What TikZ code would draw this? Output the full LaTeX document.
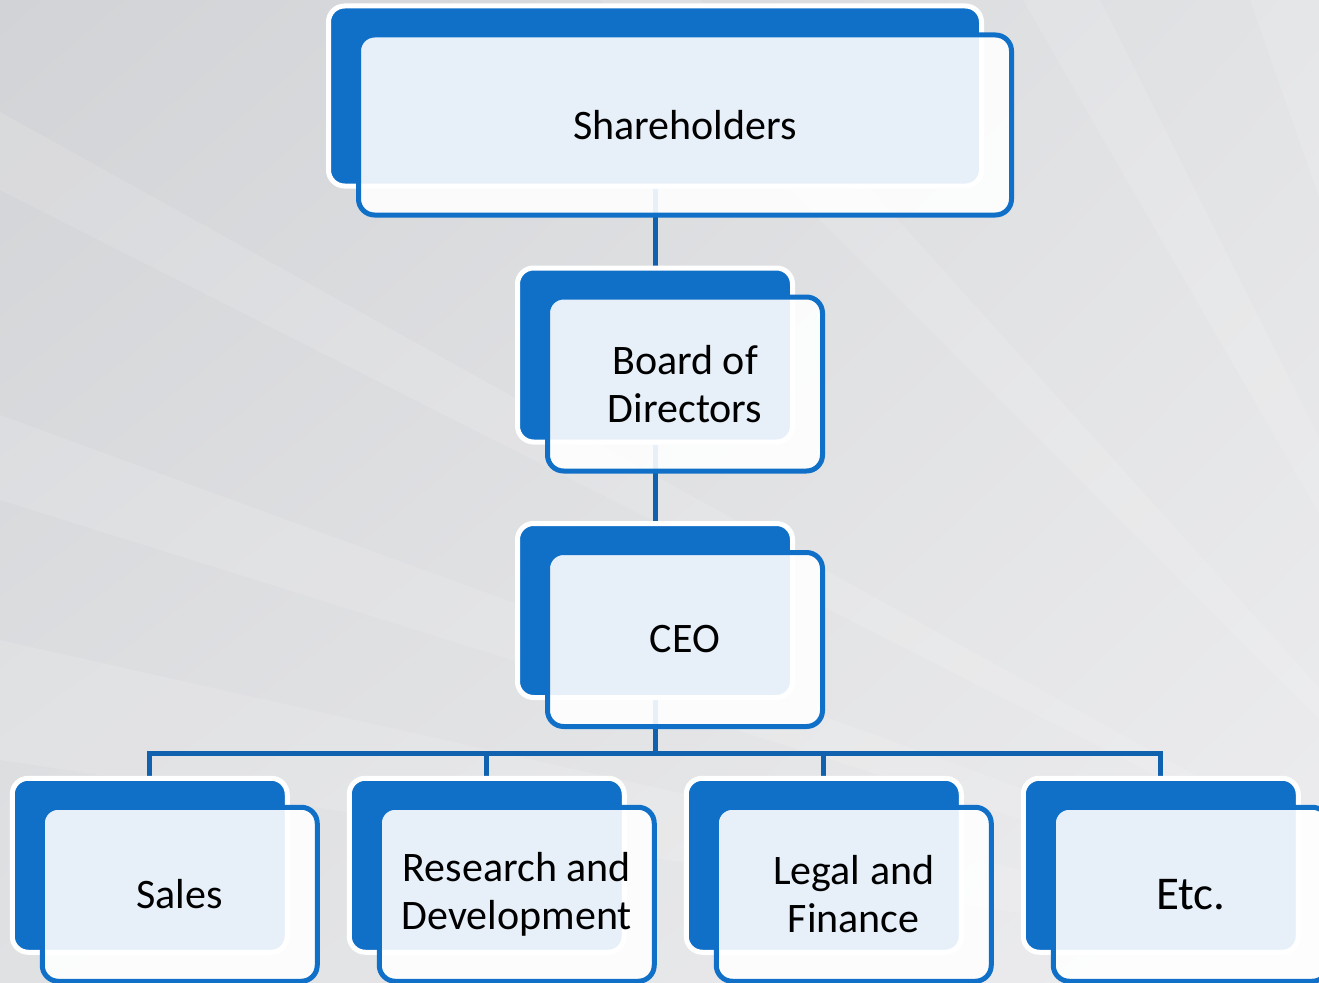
\documentclass[tikz,border=0pt]{standalone}
\usepackage{fontspec}
\setmainfont{Carlito}
\usetikzlibrary{shadings}
\definecolor{blueA}{RGB}{16,112,200}
\definecolor{lineC}{RGB}{17,98,174}
\definecolor{bgUL}{RGB}{210,211,214}
\definecolor{bgUR}{RGB}{226,227,229}
\definecolor{bgLL}{RGB}{224,225,227}
\definecolor{bgLR}{RGB}{237,237,239}
\pgfdeclarelayer{bgl}
\pgfdeclarelayer{lines}
\pgfsetlayers{bgl,lines,main}
\tikzset{
  backbox/.style={rectangle, draw=white, fill=blueA, line width=5pt, rounded corners=16pt, inner sep=0pt},
  frontbox/.style={rectangle, draw=blueA, fill=white, fill opacity=0.9, text opacity=1, line width=5pt,
    rounded corners=16pt, inner sep=0pt, align=center, text=black, font=\fontsize{42}{48.5}\selectfont},
  widebox/.style={minimum width=653pt, minimum height=180pt},
  smallbox/.style={minimum width=275pt, minimum height=174pt},
  link/.style={draw=lineC, line width=5pt, line join=miter},
  ray/.style={fill=white, fill opacity=0.12, draw=none}
}
\begin{document}
\begin{tikzpicture}[x=1pt,y=-1pt]
\useasboundingbox (0,0) rectangle (1319,982);
\begin{pgfonlayer}{bgl}
  \shade[upper left=bgUL, upper right=bgUR, lower left=bgLL, lower right=bgLR] (0,0) rectangle (1319,982);
  \coordinate (src) at (1600,1000);
  \fill[ray] (src) -- (0,112) -- (0,190) -- cycle;
  \fill[ray] (src) -- (0,415) -- (0,500) -- cycle;
  \fill[ray] (src) -- (0,640) -- (0,760) -- cycle;
  \fill[ray] (src) -- (1023,0) -- (1100,0) -- cycle;
  \fill[ray] (src) -- (1250,0) -- (1340,0) -- cycle;
  \fill[ray] (src) -- (600,0) -- (700,0) -- cycle;
\end{pgfonlayer}

% top
\node[backbox,widebox] (shB) at (655,96) {};
\node[frontbox,widebox] (shF) at (685,125) {Shareholders};
\node[backbox,smallbox] (bdB) at (655,355) {};
\node[frontbox,smallbox] (bdF) at (685,384) {Board of\\Directors};
\node[backbox,smallbox] (ceoB) at (655,610.5) {};
\node[frontbox,smallbox] (ceoF) at (685,639.5) {CEO};

% bottom row
\node[backbox,smallbox] (salB) at (149.75,865.25) {};
\node[frontbox,smallbox] (salF) at (179.75,894.25) {Sales};
\node[backbox,smallbox] (rdB) at (486.75,865.25) {};
\node[frontbox,smallbox] (rdF) at (516.75,894.25) {Research and\\Development};
\node[backbox,smallbox] (lgB) at (823.75,865.25) {};
\node[frontbox,smallbox] (lgF) at (853.75,894.25) {Legal and\\Finance};
\node[backbox,smallbox] (etcB) at (1160.75,865.25) {};
\node[frontbox,smallbox,font=\fontsize{47}{54}\selectfont] (etcF) at (1190.75,894.25) {Etc.};

\coordinate (bus) at (0,753);
\begin{pgfonlayer}{lines}
  \draw[link] (shB.south) -- (bdB.north);
  \draw[link] (bdB.south) -- (ceoB.north);
  \draw[link] (ceoB.south) -- (ceoB.south |- bus);
  \draw[link] (salB.north) -- (salB.north |- bus) -- (etcB.north |- bus) -- (etcB.north);
  \draw[link] (rdB.north) -- (rdB.north |- bus);
  \draw[link] (lgB.north) -- (lgB.north |- bus);
\end{pgfonlayer}
\end{tikzpicture}
\end{document}
